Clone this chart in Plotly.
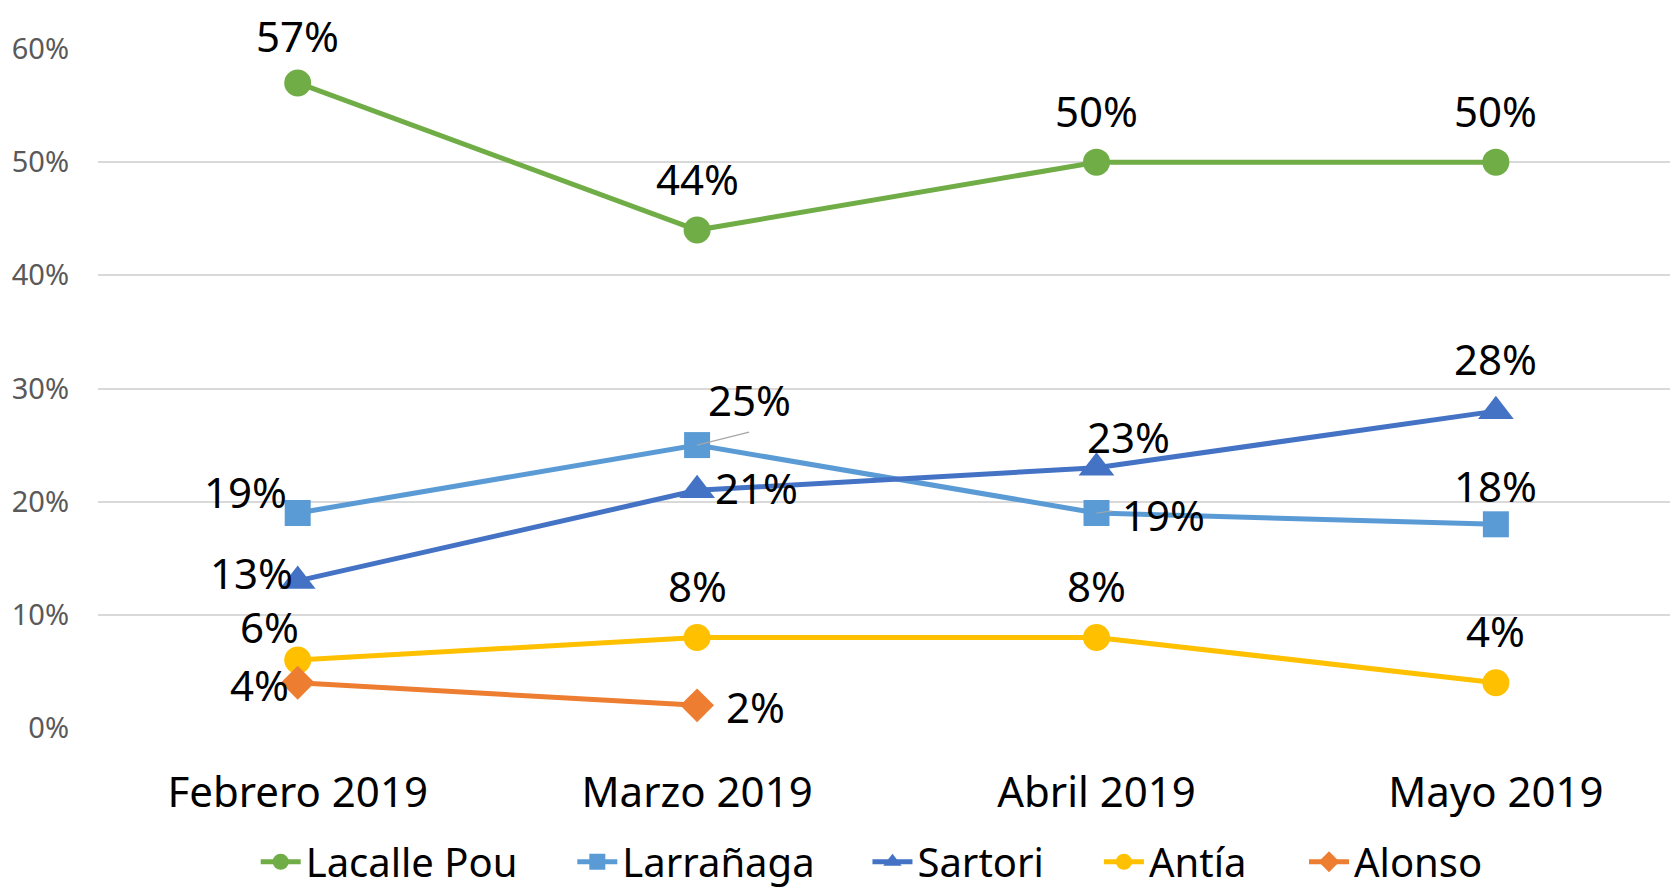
import plotly.graph_objects as go

months = ["Febrero 2019", "Marzo 2019", "Abril 2019", "Mayo 2019"]
candidates = ["Lacalle Pou", "Larrañaga", "Sartori", "Antía", "Alonso"]
lacalle = [0.57, 0.44, 0.50, 0.50]
larranaga = [0.19, 0.25, 0.19, 0.18]
sartori = [0.13, 0.21, 0.23, 0.28]
antia = [0.06, 0.08, 0.08, 0.04]
alonso = [0.04, 0.02, None, None]
y_ticks = [0, 0.1, 0.2, 0.3, 0.4, 0.5, 0.6]
y_tick_labels = ["0%", "10%", "20%", "30%", "40%", "50%", "60%"]

series = [lacalle, larranaga, sartori, antia, alonso]
colors = ["#70AD47", "#5B9BD5", "#4472C4", "#FFC000", "#ED7D31"]
symbols = ["circle", "square", "triangle-up", "circle", "diamond"]
sizes = [27, 26, 31, 27, 26]
legend_x = [0.0998, 0.3002, 0.4870, 0.6335, 0.7633]

# label offsets (pixels) per series per point
offsets = [
    [(0, 47), (0, 52), (0, 52), (0, 52)],
    [(-52, 21), (52, 46), (67, -2), (0, 39)],
    [(-46, 8), (59, 3), (32, 31), (0, 53)],
    [(-28, 34), (0, 52), (0, 52), (0, 52)],
    [(-38, -2), (58, -1), None, None],
]

FONT = "Noto Sans"
fig = go.Figure()
for k, (name, vals, c, s, sz) in enumerate(zip(candidates, series, colors, symbols, sizes)):
    fig.add_trace(go.Scatter(
        x=months, y=vals, name=name, mode="lines+markers",
        line=dict(color=c, width=5),
        marker=dict(symbol=s, size=sz, color=c),
        cliponaxis=False, connectgaps=False,
        legend="legend" if k == 0 else f"legend{k+1}",
    ))

annotations = []
for vals, offs in zip(series, offsets):
    for i, v in enumerate(vals):
        if v is None:
            continue
        dx, dy = offs[i]
        annotations.append(dict(
            x=months[i], y=v, xref="x", yref="y", text=f"{round(v*100)}%",
            showarrow=False, xshift=dx, yshift=dy,
            font=dict(family=FONT, size=42, color="#000000"),
        ))

shapes = [
    dict(type="line", xref="x", yref="y", xsizemode="pixel", ysizemode="pixel",
         xanchor=months[1], yanchor=larranaga[1], x0=0, y0=0, x1=52, y1=13,
         line=dict(color="#A6A6A6", width=1.2), layer="above"),
    dict(type="line", xref="x", yref="y", xsizemode="pixel", ysizemode="pixel",
         xanchor=months[2], yanchor=larranaga[2], x0=0, y0=0, x1=16, y1=2,
         line=dict(color="#A6A6A6", width=1.2), layer="above"),
]

legends = {}
for k, lx in enumerate(legend_x):
    key = "legend" if k == 0 else f"legend{k+1}"
    legends[key] = dict(orientation="h", x=lx, xanchor="left", y=-0.197, yanchor="middle",
                        font=dict(family=FONT, size=40, color="#000000"),
                        itemwidth=40, bgcolor="rgba(0,0,0,0)")

fig.update_layout(
    width=1670, height=885,
    margin=dict(l=90, r=0, t=41, b=165, autoexpand=False),
    plot_bgcolor="white", paper_bgcolor="white",
    font=dict(family=FONT),
    showlegend=True,
    annotations=annotations,
    shapes=shapes,
    **legends,
)
fig.update_xaxes(
    type="category", range=[-0.5, 3.456], showgrid=False, showline=False,
    zeroline=False, ticks="", tickfont=dict(family=FONT, size=42, color="#000000"),
    ticklabelstandoff=36,
)
fig.update_yaxes(
    range=[0, 0.6], tickvals=y_ticks, ticktext=y_tick_labels,
    showgrid=True, gridcolor="#D9D9D9", gridwidth=1.5, zeroline=False,
    showline=False, ticks="", tickfont=dict(family=FONT, size=29, color="#595959"),
    ticklabelstandoff=28,
)

fig.write_html("out.html")
